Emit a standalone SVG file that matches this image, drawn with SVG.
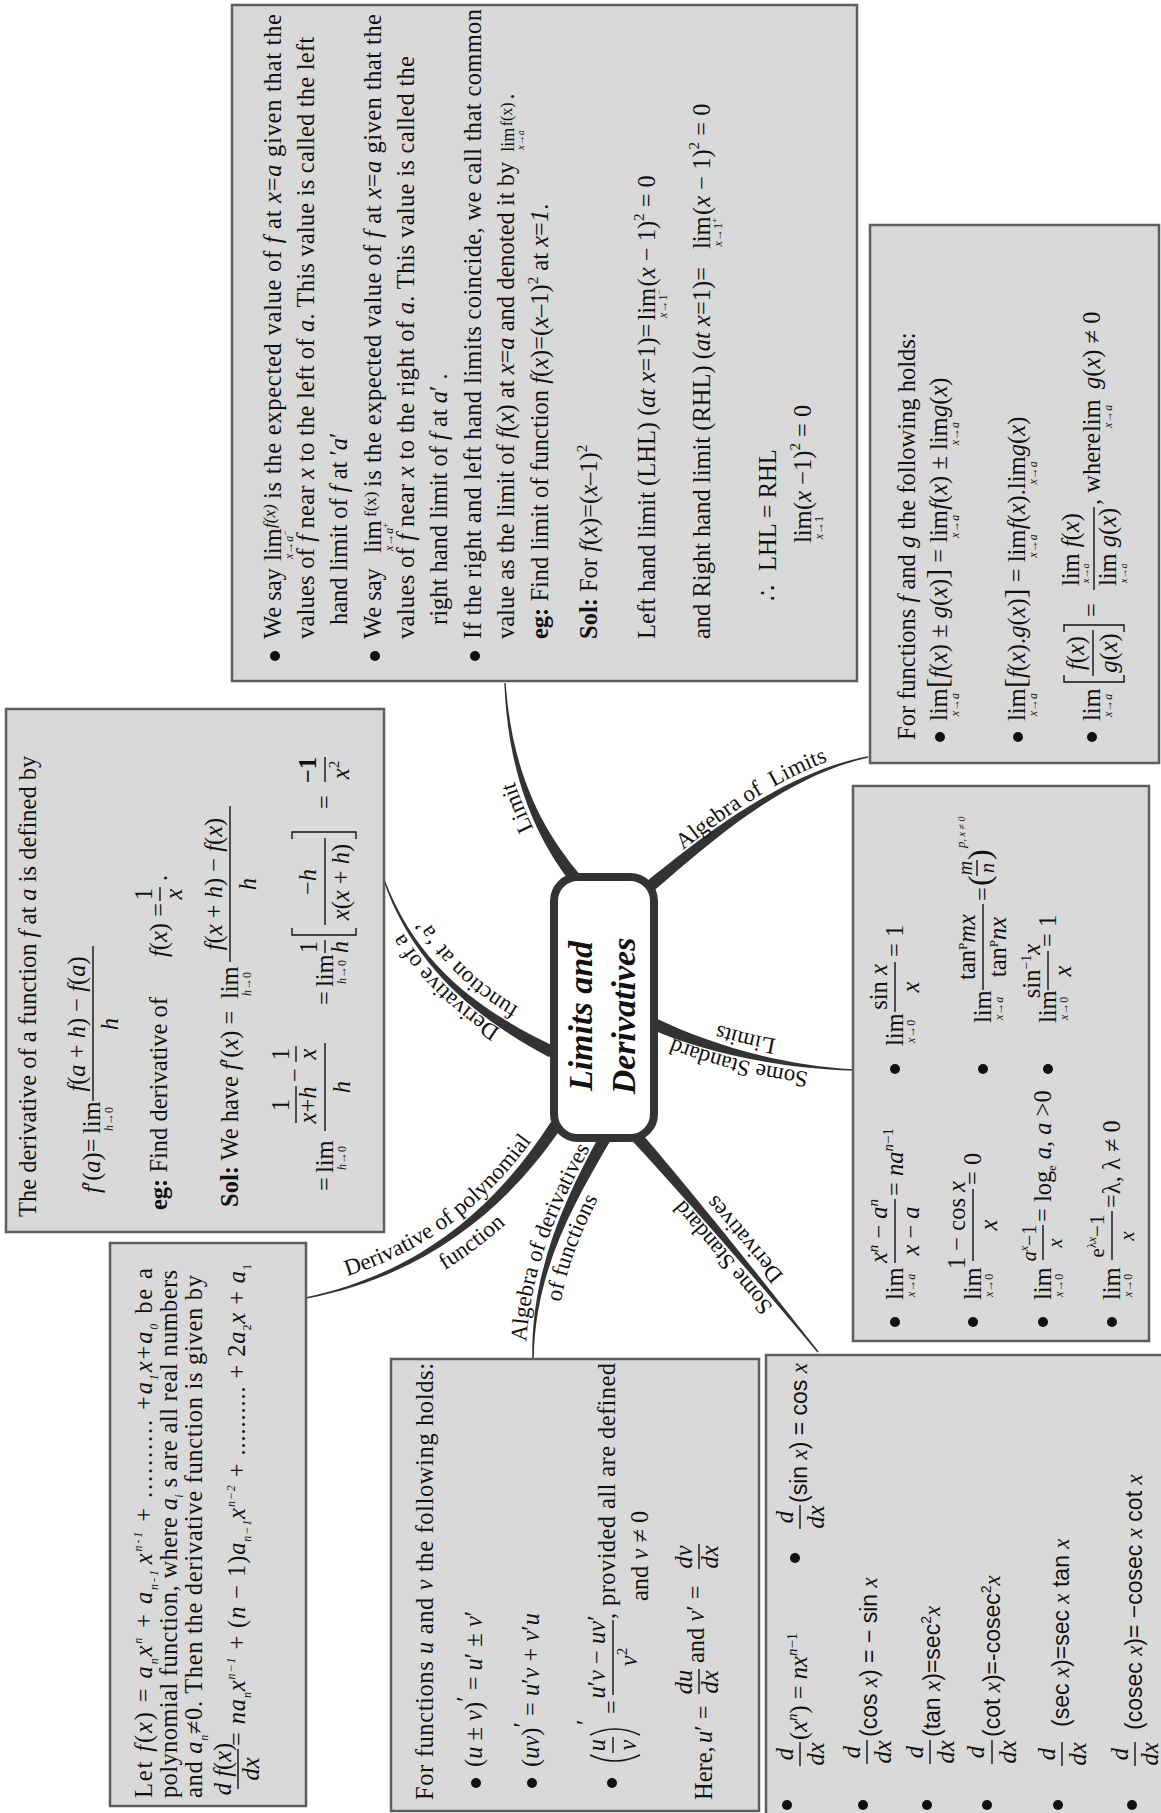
<svg xmlns="http://www.w3.org/2000/svg" width="1161" height="1813" viewBox="0 0 1161 1813">
<style>
.box{fill:#d9d9d9;stroke:#5e5e5e;stroke-width:2.5}
.t{font-family:"Liberation Serif","Times New Roman",serif;font-size:24.5px;fill:#111}
.sf{font-family:"Liberation Sans",Arial,sans-serif;font-size:23px}
.mx{font-family:"Liberation Serif","Times New Roman",serif;font-style:italic}
.i{font-style:italic}
.b{font-weight:bold}
.s{font-size:12px}
.p{font-size:15px}
.bar{stroke:#111;stroke-width:1.4}
.brk{fill:none;stroke:#111;stroke-width:1.4}
.dot{fill:#111}
.br{fill:#333}
.lbl{font-family:"Liberation Serif","Times New Roman",serif;font-size:23px;fill:#111}
.ttl{font-family:"Liberation Serif","Times New Roman",serif;font-size:34px;font-weight:bold;font-style:italic;fill:#111}
</style>
<defs>
<path id="lp-limit" d="M568.8 883.1 C533.8 840.1 502 775.4 497 683.4"/>
<path id="lp-alglim" d="M643.5 882.6 C695.5 839.6 778.6 768.1 866.6 750.1"/>
<path id="lp-ssl1" d="M852.7 1076 C769.7 1072 697.5 1050.5 651.5 1029.5"/>
<path id="lp-ssl2" d="M854 1048 C771 1044 709.1 1025 663.1 1004"/>
<path id="lp-ssd1" d="M813.3 1355.8 C755.3 1283.8 675.5 1189 630.5 1139"/>
<path id="lp-ssd2" d="M835.1 1338.2 C777.1 1266.2 696.3 1170.3 651.3 1120.3"/>
<path id="lp-adf1" d="M526 1358 C526 1270 563 1196 598 1134"/>
<path id="lp-adf2" d="M556 1358 C556 1270 590 1211.5 625 1149.5"/>
<path id="lp-dp1" d="M303.8 1287.2 C417.8 1264.2 490.8 1204 546.8 1119"/>
<path id="lp-dp2" d="M311.3 1324.5 C425.3 1301.5 522.5 1224.9 578.5 1139.9"/>
<path id="lp-daf1" d="M549.2 1057.3 C497.2 1030.3 414.4 982 378.4 882"/>
<path id="lp-daf2" d="M563 1031 C511 1004 441.6 972 405.6 872"/>
</defs>
<rect width="1161" height="1813" fill="#fff"/>

<!-- tapered branches from the central topic -->
<g id="connectors">
<path class="br" d="M579.7 874.2 C543.9 831.8 512 774.9 505.7 683 L504.3 683 C508 775.1 536.1 838.2 570.3 881.8 Z"/>
<path class="br" d="M651.8 892.6 C703.2 848.9 780.4 777 868.2 757.7 L867.9 756.3 C779.6 773 696.8 841.2 644.2 883.4 Z"/>
<path class="br" d="M651.5 1029.5 C697.9 1049.5 769.9 1068 853 1070.7 L853 1069.3 C770.1 1064 702.1 1040.5 656.5 1018.5 Z"/>
<path class="br" d="M630.5 1139 C676.3 1188.3 758.4 1281.3 817.4 1352.5 L818.6 1351.5 C761.6 1278.7 683.7 1181.7 639.5 1131 Z"/>
<path class="br" d="M599.8 1135 C565.6 1197.5 531 1270 532.3 1358 L533.8 1358 C535 1270 574.4 1202.5 610.2 1141 Z"/>
<path class="br" d="M551 1121.7 C495.8 1207.3 419.6 1273 305.9 1297.3 L306.1 1298.7 C420.4 1277 504.2 1212.8 561 1128.3 Z"/>
<path class="br" d="M554.8 1046.7 C502.3 1020.6 421.9 979.3 384.7 879.7 L383.3 880.3 C418.1 980.7 497.7 1029.4 549.2 1057.3 Z"/>
<text class="lbl"><textPath href="#lp-limit" startOffset="42%" text-anchor="middle">Limit</textPath></text>
<text class="lbl"><textPath href="#lp-alglim" startOffset="52%" text-anchor="middle">Algebra of&#160; Limits</textPath></text>
<text class="lbl"><textPath href="#lp-ssl1" startOffset="55%" text-anchor="middle">Some Standard</textPath></text>
<text class="lbl"><textPath href="#lp-ssl2" startOffset="55%" text-anchor="middle">Limits</textPath></text>
<text class="lbl"><textPath href="#lp-ssd1" startOffset="47%" text-anchor="middle">Some Standard</textPath></text>
<text class="lbl"><textPath href="#lp-ssd2" startOffset="47%" text-anchor="middle">Derivatives</textPath></text>
<text class="lbl"><textPath href="#lp-adf1" startOffset="50%" text-anchor="middle">Algebra of derivatives</textPath></text>
<text class="lbl"><textPath href="#lp-adf2" startOffset="50%" text-anchor="middle">of functions</textPath></text>
<text class="lbl"><textPath href="#lp-dp1" startOffset="53%" text-anchor="middle">Derivative of polynomial</textPath></text>
<text class="lbl"><textPath href="#lp-dp2" startOffset="55%" text-anchor="middle">function</textPath></text>
<text class="lbl"><textPath href="#lp-daf1" startOffset="50%" text-anchor="middle">Derivative of a</textPath></text>
<text class="lbl"><textPath href="#lp-daf2" startOffset="50%" text-anchor="middle">function at ‘a’</textPath></text>
</g>

<!-- central topic -->
<g id="node-center">
<rect x="554" y="877" width="100" height="261" rx="24" fill="#fff" stroke="#333" stroke-width="8"/>
<text class="ttl" transform="translate(592,1016) rotate(-90)" text-anchor="middle">Limits and</text>
<text class="ttl" transform="translate(635,1016) rotate(-90)" text-anchor="middle">Derivatives</text>
</g>

<!-- Limit -->
<g id="node-limit">
<rect class="box" x="232" y="5" width="625" height="676"/>
<g class="t" transform="matrix(0,-1,1,0,0,1813)">
<circle class="dot" cx="1157" cy="275" r="5"/>
<circle class="dot" cx="1157" cy="375" r="5"/>
<circle class="dot" cx="1157" cy="475" r="5"/>
<text x="1174" y="281">We say</text>
<text x="1252" y="281">lim</text>
<text class="s" x="1254" y="293"><tspan class="i">x</tspan>→<tspan class="i">a</tspan><tspan font-size="9" dy="-5">−</tspan></text>
<text x="1285" y="275" class="i" font-size="17">f(x)</text>
<text x="1314" y="281" textLength="485">is the expected value of <tspan class="i">f</tspan> at <tspan class="i">x</tspan>=<tspan class="i">a</tspan> given that the</text>
<text x="1174" y="314" textLength="602">values of <tspan class="i">f</tspan> near <tspan class="i">x</tspan> to the left of <tspan class="i">a</tspan>. This value is called the left</text>
<text x="1188" y="347">hand limit of <tspan class="i">f</tspan> at ′<tspan class="i">a</tspan>′</text>
<text x="1174" y="381">We say</text>
<text x="1260" y="381">lim</text>
<text class="s" x="1262" y="393"><tspan class="i">x</tspan>→<tspan class="i">a</tspan><tspan font-size="9" dy="-5">+</tspan></text>
<text x="1296" y="376" font-size="17">f(x)</text>
<text x="1326" y="381" textLength="473">is the expected value of <tspan class="i">f</tspan> at <tspan class="i">x</tspan>=<tspan class="i">a</tspan> given that the</text>
<text x="1174" y="414" textLength="583">values of <tspan class="i">f</tspan> near <tspan class="i">x</tspan> to the right of <tspan class="i">a</tspan>. This value is called the</text>
<text x="1188" y="447">right hand limit of <tspan class="i">f</tspan> at <tspan class="i">a</tspan>′ .</text>
<text x="1174" y="481" textLength="630">If the right and left hand limits coincide, we call that common</text>
<text x="1174" y="514">value as the limit of <tspan class="i">f</tspan>(<tspan class="i">x</tspan>) at <tspan class="i">x</tspan>=<tspan class="i">a</tspan> and denoted it by<tspan font-size="18" dx="10">lim</tspan><tspan font-size="10" dx="-22" dy="10"><tspan class="i">x</tspan>→<tspan class="i">a</tspan></tspan><tspan font-size="16" dx="4" dy="-12">f(x)</tspan><tspan dx="3" dy="2">.</tspan></text>
<text x="1174" y="548"><tspan class="b">eg:</tspan> Find limit of function <tspan class="i">f</tspan>(<tspan class="i">x</tspan>)=(<tspan class="i">x</tspan>–1)<tspan class="p" dy="-10">2</tspan><tspan dy="10"> at </tspan><tspan class="i">x</tspan>=<tspan class="i">1</tspan>.</text>
<text x="1174" y="597"><tspan class="b">Sol:</tspan> For <tspan class="i">f</tspan>(<tspan class="i">x</tspan>)=(<tspan class="i">x</tspan>–1)<tspan class="p" dy="-10">2</tspan></text>
<text x="1174" y="655">Left hand limit (LHL) (<tspan class="i">at x</tspan>=1)=<tspan dx="3">lim</tspan><tspan class="s" dx="-30" dy="12"><tspan class="i">x</tspan>→1<tspan font-size="9" dy="-5">−</tspan></tspan><tspan dx="3" dy="-7">(<tspan class="i">x</tspan> − 1)</tspan><tspan class="p" dy="-11">2</tspan><tspan dy="11"> = 0</tspan></text>
<text x="1174" y="710">and Right hand limit (RHL) (<tspan class="i">at x</tspan>=1)=<tspan dx="18">lim</tspan><tspan class="s" dx="-30" dy="12"><tspan class="i">x</tspan>→1<tspan font-size="9" dy="-5">+</tspan></tspan><tspan dx="3" dy="-7">(<tspan class="i">x</tspan> − 1)</tspan><tspan class="p" dy="-11">2</tspan><tspan dy="11"> = 0</tspan></text>
<text x="1212" y="776">∴<tspan dx="14">LHL = RHL</tspan></text>
<text x="1270" y="811">lim<tspan class="s" dx="-29" dy="12"><tspan class="i">x</tspan>→1</tspan><tspan dx="6" dy="-12">(<tspan class="i">x</tspan> −1)</tspan><tspan class="p" dy="-11">2</tspan><tspan dy="11"> = 0</tspan></text>
</g>
</g>

<!-- Algebra of limits -->
<g id="node-algebra-limits">
<rect class="box" x="870" y="225" width="289" height="538"/>
<g class="t" transform="matrix(0,-1,1,0,0,1813)">
<text x="1073" y="915">For functions <tspan class="i">f</tspan> and <tspan class="i">g</tspan> the following holds:</text>
<circle class="dot" cx="1076" cy="940" r="5"/>
<circle class="dot" cx="1076" cy="1018" r="5"/>
<circle class="dot" cx="1076" cy="1092" r="5"/>
<text x="1092" y="947">lim<tspan class="s" dx="-28" dy="12"><tspan class="i">x</tspan>→<tspan class="i">a</tspan></tspan><tspan font-size="30" dx="5" dy="-12">[</tspan><tspan class="i">f</tspan>(<tspan class="i">x</tspan>) ± <tspan class="i">g</tspan>(<tspan class="i">x</tspan>)<tspan font-size="30">]</tspan> = lim<tspan class="s" dx="-28" dy="12"><tspan class="i">x</tspan>→<tspan class="i">a</tspan></tspan><tspan dx="5" dy="-12"><tspan class="i">f</tspan>(<tspan class="i">x</tspan>) ± lim</tspan><tspan class="s" dx="-28" dy="12"><tspan class="i">x</tspan>→<tspan class="i">a</tspan></tspan><tspan dx="5" dy="-12"><tspan class="i">g</tspan>(<tspan class="i">x</tspan>)</tspan></text>
<text x="1092" y="1025">lim<tspan class="s" dx="-28" dy="12"><tspan class="i">x</tspan>→<tspan class="i">a</tspan></tspan><tspan font-size="30" dx="5" dy="-12">[</tspan><tspan class="i">f</tspan>(<tspan class="i">x</tspan>).<tspan class="i">g</tspan>(<tspan class="i">x</tspan>)<tspan font-size="30">]</tspan> = lim<tspan class="s" dx="-28" dy="12"><tspan class="i">x</tspan>→<tspan class="i">a</tspan></tspan><tspan dx="5" dy="-12"><tspan class="i">f</tspan>(<tspan class="i">x</tspan>).lim</tspan><tspan class="s" dx="-28" dy="12"><tspan class="i">x</tspan>→<tspan class="i">a</tspan></tspan><tspan dx="5" dy="-12"><tspan class="i">g</tspan>(<tspan class="i">x</tspan>)</tspan></text>
<text x="1092" y="1100">lim</text>
<text class="s" x="1096" y="1112"><tspan class="i">x</tspan>→<tspan class="i">a</tspan></text>
<path class="brk" d="M1138 1064 H1131 V1124 H1138"/>
<text x="1160" y="1084" text-anchor="middle"><tspan class="i">f</tspan>(<tspan class="i">x</tspan>)</text>
<line class="bar" x1="1137" y1="1093" x2="1183" y2="1093"/>
<text x="1160" y="1117" text-anchor="middle"><tspan class="i">g</tspan>(<tspan class="i">x</tspan>)</text>
<path class="brk" d="M1181 1064 H1188 V1124 H1181"/>
<text x="1196" y="1100">=</text>
<text x="1227" y="1079">lim <tspan class="i">f</tspan>(<tspan class="i">x</tspan>)</text>
<text x="1230" y="1089" font-size="10"><tspan class="i">x</tspan>→<tspan class="i">a</tspan></text>
<line class="bar" x1="1223" y1="1094" x2="1306" y2="1094"/>
<text x="1227" y="1116">lim <tspan class="i">g</tspan>(<tspan class="i">x</tspan>)</text>
<text x="1230" y="1127" font-size="10"><tspan class="i">x</tspan>→<tspan class="i">a</tspan></text>
<text x="1308" y="1100">, where</text>
<text x="1381" y="1100">lim</text>
<text class="s" x="1385" y="1112"><tspan class="i">x</tspan>→<tspan class="i">a</tspan></text>
<text x="1424" y="1100"><tspan class="i">g</tspan>(<tspan class="i">x</tspan>) ≠ 0</text>
</g>
</g>

<!-- Derivative of a function at a -->
<g id="node-derivative-at-a">
<rect class="box" x="6" y="709" width="378" height="523"/>
<g class="t" transform="matrix(0,-1,1,0,0,1813)">
<text x="596" y="36">The derivative of a function <tspan class="i">f</tspan> at <tspan class="i">a</tspan> is defined by</text>
<text x="620" y="100"><tspan class="i">f</tspan>′(<tspan class="i">a</tspan>)=</text>
<text x="679" y="100">lim</text>
<text class="s" x="682" y="113"><tspan class="i">h</tspan>→0</text>
<text x="789" y="85" text-anchor="middle"><tspan class="i">f</tspan>(<tspan class="i">a</tspan> + <tspan class="i">h</tspan>) − <tspan class="i">f</tspan>(<tspan class="i">a</tspan>)</text>
<line class="bar" x1="712" y1="93" x2="867" y2="93"/>
<text x="789" y="118" text-anchor="middle" class="i">h</text>
<text x="603" y="167"><tspan class="b">eg:</tspan> Find derivative of</text>
<text x="856" y="167"><tspan class="i">f</tspan>(<tspan class="i">x</tspan>) =</text>
<text x="919" y="152" text-anchor="middle">1</text>
<line class="bar" x1="912" y1="160" x2="926" y2="160"/>
<text x="919" y="182" text-anchor="middle" class="i">x</text>
<text x="932" y="167">.</text>
<text x="606" y="238"><tspan class="b">Sol:</tspan> We have <tspan class="i">f</tspan>′(<tspan class="i">x</tspan>) =</text>
<text x="814" y="238">lim</text>
<text class="s" x="817" y="251"><tspan class="i">h</tspan>→0</text>
<text x="929" y="222" text-anchor="middle"><tspan class="i">f</tspan>(<tspan class="i">x</tspan> + <tspan class="i">h</tspan>) − <tspan class="i">f</tspan>(<tspan class="i">x</tspan>)</text>
<line class="bar" x1="851" y1="230" x2="1007" y2="230"/>
<text x="929" y="256" text-anchor="middle" class="i">h</text>
<text x="622" y="333">=</text>
<text x="640" y="333">lim</text>
<text class="s" x="643" y="346"><tspan class="i">h</tspan>→0</text>
<text x="708" y="289" text-anchor="middle">1</text>
<line class="bar" x1="690" y1="296" x2="727" y2="296"/>
<text x="708" y="316" text-anchor="middle"><tspan class="i">x</tspan>+<tspan class="i">h</tspan></text>
<text x="738" y="303" text-anchor="middle">−</text>
<text x="759" y="289" text-anchor="middle">1</text>
<line class="bar" x1="751" y1="296" x2="767" y2="296"/>
<text x="759" y="316" text-anchor="middle" class="i">x</text>
<line class="bar" x1="682" y1="325" x2="770" y2="325"/>
<text x="726" y="350" text-anchor="middle" class="i">h</text>
<text x="808" y="333">=</text>
<text x="826" y="333">lim</text>
<text class="s" x="829" y="346"><tspan class="i">h</tspan>→0</text>
<text x="866" y="317" text-anchor="middle">1</text>
<line class="bar" x1="860" y1="325" x2="873" y2="325"/>
<text x="866" y="348" text-anchor="middle" class="i">h</text>
<path class="brk" d="M885 292 H878 V356 H885"/>
<text x="931" y="316" text-anchor="middle">−<tspan class="i">h</tspan></text>
<line class="bar" x1="888" y1="325" x2="975" y2="325"/>
<text x="931" y="349" text-anchor="middle"><tspan class="i">x</tspan>(<tspan class="i">x</tspan> + <tspan class="i">h</tspan>)</text>
<path class="brk" d="M974 292 H981 V356 H974"/>
<text x="1004" y="333">=</text>
<text x="1043" y="316" text-anchor="middle" class="b">−1</text>
<line class="bar" x1="1031" y1="325" x2="1056" y2="325"/>
<text x="1043" y="349" text-anchor="middle"><tspan class="i">x</tspan><tspan class="p" dy="-10">2</tspan></text>
</g>
</g>

<!-- Some standard limits -->
<g id="node-standard-limits">
<rect class="box" x="853" y="786" width="296" height="555"/>
<g class="t" transform="matrix(0,-1,1,0,0,1813)">
<circle class="dot" cx="491" cy="895" r="5"/>
<circle class="dot" cx="491" cy="973" r="5"/>
<circle class="dot" cx="491" cy="1043" r="5"/>
<circle class="dot" cx="491" cy="1112" r="5"/>
<circle class="dot" cx="744" cy="895" r="5"/>
<circle class="dot" cx="744" cy="983" r="5"/>
<circle class="dot" cx="744" cy="1048" r="5"/>
<text x="513" y="903">lim</text>
<text class="s" x="516" y="915"><tspan class="i">x</tspan>→<tspan class="i">a</tspan></text>
<text x="582" y="887" text-anchor="middle"><tspan class="i">x</tspan><tspan class="p i" dy="-9">n</tspan><tspan dy="9"> − </tspan><tspan class="i">a</tspan><tspan class="p i" dy="-9">n</tspan></text>
<line class="bar" x1="550" y1="895" x2="614" y2="895"/>
<text x="582" y="919" text-anchor="middle"><tspan class="i">x</tspan> − <tspan class="i">a</tspan></text>
<text x="617" y="903">= <tspan class="i">na</tspan><tspan class="p i" dy="-10">n</tspan><tspan class="p">−1</tspan></text>
<text x="513" y="981">lim</text>
<text class="s" x="516" y="993"><tspan class="i">x</tspan>→0</text>
<text x="588" y="965" text-anchor="middle">1 − cos <tspan class="i">x</tspan></text>
<line class="bar" x1="552" y1="973" x2="624" y2="973"/>
<text x="588" y="997" text-anchor="middle" class="i">x</text>
<text x="628" y="981">= 0</text>
<text x="513" y="1051">lim</text>
<text class="s" x="516" y="1063"><tspan class="i">x</tspan>→0</text>
<text x="570" y="1036" text-anchor="middle" font-size="20"><tspan class="i">a</tspan><tspan class="i" font-size="12" dy="-8">x</tspan><tspan dy="8">−1</tspan></text>
<line class="bar" x1="553" y1="1043" x2="588" y2="1043"/>
<text x="570" y="1062" text-anchor="middle" class="i" font-size="20">x</text>
<text x="591" y="1051">= log<tspan font-size="12" dy="5">e</tspan><tspan dy="-5"> <tspan class="i">a</tspan>, <tspan class="i">a</tspan> &gt;0</tspan></text>
<text x="513" y="1120">lim</text>
<text class="s" x="516" y="1132"><tspan class="i">x</tspan>→0</text>
<text x="577" y="1104" text-anchor="middle" font-size="21">e<tspan font-size="12" dy="-8">λ<tspan class="i">x</tspan></tspan><tspan dy="8">−1</tspan></text>
<line class="bar" x1="553" y1="1112" x2="602" y2="1112"/>
<text x="577" y="1134" text-anchor="middle" class="i" font-size="21">x</text>
<text x="605" y="1120">=λ, λ ≠ 0</text>
<text x="767" y="903">lim</text>
<text class="s" x="770" y="915"><tspan class="i">x</tspan>→0</text>
<text x="826" y="887" text-anchor="middle">sin <tspan class="i">x</tspan></text>
<line class="bar" x1="801" y1="895" x2="851" y2="895"/>
<text x="826" y="919" text-anchor="middle" class="i">x</text>
<text x="856" y="903">= 1</text>
<text x="790" y="991">lim</text>
<text class="s" x="793" y="1003"><tspan class="i">x</tspan>→<tspan class="i">a</tspan></text>
<text x="866" y="975" text-anchor="middle">tan<tspan font-size="13" dy="-8">P</tspan><tspan class="i" dy="8">mx</tspan></text>
<line class="bar" x1="823" y1="983" x2="909" y2="983"/>
<text x="866" y="1006" text-anchor="middle">tan<tspan font-size="13" dy="-8">P</tspan><tspan class="i" dy="8">nx</tspan></text>
<text x="912" y="991">=</text>
<text x="927" y="990" font-size="32">(</text>
<text x="945" y="972" text-anchor="middle" class="i" font-size="20">m</text>
<line class="bar" x1="937" y1="977" x2="953" y2="977"/>
<text x="945" y="994" text-anchor="middle" class="i" font-size="20">n</text>
<text x="953" y="990" font-size="32">)</text>
<text x="965" y="965" class="i" font-size="13">p<tspan font-size="10">, x ≠ 0</tspan></text>
<text x="790" y="1056">lim</text>
<text class="s" x="793" y="1068"><tspan class="i">x</tspan>→0</text>
<text x="842" y="1040" text-anchor="middle">sin<tspan font-size="14" dy="-9">−1</tspan><tspan class="i" dy="9">x</tspan></text>
<line class="bar" x1="823" y1="1048" x2="862" y2="1048"/>
<text x="842" y="1071" text-anchor="middle" class="i">x</text>
<text x="866" y="1056">= 1</text>
</g>
</g>

<!-- Derivative of polynomial function -->
<g id="node-polynomial">
<rect class="box" x="110" y="1243" width="196" height="563"/>
<g class="t" transform="matrix(0,-1,1,0,0,1813)">
<text x="15" y="152" textLength="530">Let <tspan class="i">f</tspan>(<tspan class="i">x</tspan>) = <tspan class="i">a</tspan><tspan class="s i" dy="6">n</tspan><tspan class="i" dy="-6">x</tspan><tspan class="s i" dy="-10">n</tspan><tspan dy="10"> + </tspan><tspan class="i">a</tspan><tspan class="s i" dy="6">n-1</tspan><tspan class="i" dx="4" dy="-6">x</tspan><tspan class="s i" dy="-10">n-1</tspan><tspan dy="10"> + .......... +</tspan><tspan class="i">a</tspan><tspan class="s i" dy="6">1</tspan><tspan class="i" dy="-6">x</tspan>+<tspan class="i">a</tspan><tspan class="s i" dy="6">0</tspan><tspan dy="-6"> be a</tspan></text>
<text x="15" y="177" textLength="528">polynomial function, where <tspan class="i">a</tspan><tspan class="s i" dy="6">i</tspan><tspan dy="-6"> s are all real numbers</tspan></text>
<text x="15" y="202" textLength="523">and <tspan class="i">a</tspan><tspan class="s i" dy="6">n</tspan><tspan dy="-6">≠0. Then the derivative function is given by</tspan></text>
<text x="44" y="231" text-anchor="middle"><tspan class="i">d f</tspan>(<tspan class="i">x</tspan>)</text>
<line class="bar" x1="24" y1="238" x2="64" y2="238"/>
<text x="44" y="259" text-anchor="middle" class="i">dx</text>
<text x="67" y="245" textLength="482">= <tspan class="i">na</tspan><tspan class="s i" dy="6">n</tspan><tspan class="i" dy="-6">x</tspan><tspan class="s i" dy="-10">n−1</tspan><tspan dy="10"> + (</tspan><tspan class="i">n</tspan> − 1)<tspan class="i">a</tspan><tspan class="s i" dy="6">n−1</tspan><tspan class="i" dy="-6">x</tspan><tspan class="s i" dy="-10">n−2</tspan><tspan dy="10"> + .......... + 2</tspan><tspan class="i">a</tspan><tspan class="s" dy="6">2</tspan><tspan class="i" dy="-6">x</tspan> + <tspan class="i">a</tspan><tspan class="s" dy="6">1</tspan></text>
</g>
</g>

<!-- Algebra of derivatives of functions -->
<g id="node-algebra-derivatives">
<rect class="box" x="391" y="1359" width="368" height="452"/>
<g class="t" transform="matrix(0,-1,1,0,0,1813)">
<text x="13" y="433" textLength="437">For functions <tspan class="i">u</tspan> and <tspan class="i">v</tspan> the following holds:</text>
<circle class="dot" cx="30" cy="476" r="5"/>
<circle class="dot" cx="30" cy="532" r="5"/>
<circle class="dot" cx="30" cy="612" r="5"/>
<text x="46" y="482">(<tspan class="i">u</tspan> ± <tspan class="i">v</tspan>)<tspan dy="-8">′</tspan><tspan dy="8"> = </tspan><tspan class="i">u</tspan>′ ± <tspan class="i">v</tspan>′</text>
<text x="46" y="539">(<tspan class="i">uv</tspan>)<tspan dy="-8">′</tspan><tspan dy="8"> = </tspan><tspan class="i">u</tspan>′<tspan class="i">v</tspan> + <tspan class="i">v</tspan>′<tspan class="i">u</tspan></text>
<path class="brk" d="M58 590 Q46 615 58 640"/>
<text x="68" y="605" text-anchor="middle" class="i">u</text>
<line class="bar" x1="60" y1="613" x2="76" y2="613"/>
<text x="68" y="636" text-anchor="middle" class="i">v</text>
<path class="brk" d="M78 590 Q90 615 78 640"/>
<text x="88" y="594">′</text>
<text x="99" y="620">=</text>
<text x="156" y="605" text-anchor="middle"><tspan class="i">u</tspan>′<tspan class="i">v</tspan> − <tspan class="i">uv</tspan>′</text>
<line class="bar" x1="118" y1="613" x2="193" y2="613"/>
<text x="156" y="637" text-anchor="middle"><tspan class="i">v</tspan><tspan class="p" dy="-10">2</tspan></text>
<text x="194" y="615" textLength="256">, provided all are defined</text>
<text x="212" y="648">and <tspan class="i">v</tspan> ≠ 0</text>
<text x="13" y="712">Here,</text>
<text x="70" y="712"><tspan class="i">u</tspan>′ =</text>
<text x="131" y="692" text-anchor="middle" class="i">du</text>
<line class="bar" x1="119" y1="699" x2="144" y2="699"/>
<text x="131" y="718" text-anchor="middle" class="i">dx</text>
<text x="150" y="704">and <tspan class="i">v</tspan>′ =</text>
<text x="256" y="692" text-anchor="middle" class="i">dv</text>
<line class="bar" x1="244" y1="699" x2="269" y2="699"/>
<text x="256" y="718" text-anchor="middle" class="i">dx</text>
</g>
</g>

<!-- Some standard derivatives -->
<g id="node-standard-derivatives">
<rect class="box" x="766" y="1355" width="400" height="462"/>
<g class="t" transform="matrix(0,-1,1,0,0,1813)">
<circle class="dot" cx="8" cy="787" r="5"/>
<circle class="dot" cx="8" cy="863" r="5"/>
<circle class="dot" cx="8" cy="927" r="5"/>
<circle class="dot" cx="8" cy="987" r="5"/>
<circle class="dot" cx="8" cy="1058" r="5"/>
<circle class="dot" cx="8" cy="1132" r="5"/>
<circle class="dot" cx="255" cy="795" r="5"/>
<text x="59" y="793" text-anchor="middle" class="i">d</text>
<line class="bar" x1="47" y1="800" x2="71" y2="800"/>
<text x="59" y="824" text-anchor="middle" class="i">dx</text>
<text x="73" y="807">(<tspan class="i">x</tspan><tspan class="p i" dy="-10">n</tspan><tspan dy="10">) = </tspan><tspan class="i">nx</tspan><tspan class="p i" dy="-10">n</tspan><tspan class="p">−1</tspan></text>
<text x="61" y="860" text-anchor="middle" class="i">d</text>
<line class="bar" x1="49" y1="867" x2="73" y2="867"/>
<text x="61" y="891" text-anchor="middle" class="i">dx</text>
<text class="sf" x="76" y="877">(cos <tspan class="mx">x</tspan>) = − sin <tspan class="mx">x</tspan></text>
<text x="61" y="923" text-anchor="middle" class="i">d</text>
<line class="bar" x1="49" y1="930" x2="73" y2="930"/>
<text x="61" y="954" text-anchor="middle" class="i">dx</text>
<text class="sf" x="76" y="940">(tan <tspan class="mx">x</tspan>)=sec<tspan font-size="14" dy="-9">2</tspan><tspan class="mx" dy="9">x</tspan></text>
<text x="61" y="984" text-anchor="middle" class="i">d</text>
<line class="bar" x1="49" y1="992" x2="73" y2="992"/>
<text x="61" y="1016" text-anchor="middle" class="i">dx</text>
<text class="sf" x="76" y="1000">(cot <tspan class="mx">x</tspan>)=-cosec<tspan font-size="14" dy="-9">2</tspan><tspan class="mx" dy="9">x</tspan></text>
<text x="59" y="1055" text-anchor="middle" class="i">d</text>
<line class="bar" x1="47" y1="1062" x2="71" y2="1062"/>
<text x="59" y="1086" text-anchor="middle" class="i">dx</text>
<text class="sf" x="86" y="1069">(sec <tspan class="mx">x</tspan>)=sec <tspan class="mx">x</tspan> tan <tspan class="mx">x</tspan></text>
<text x="59" y="1128" text-anchor="middle" class="i">d</text>
<line class="bar" x1="47" y1="1135" x2="71" y2="1135"/>
<text x="59" y="1158" text-anchor="middle" class="i">dx</text>
<text class="sf" x="83" y="1142">(cosec <tspan class="mx">x</tspan>)= −cosec <tspan class="mx">x</tspan> cot <tspan class="mx">x</tspan></text>
<text x="296" y="793" text-anchor="middle" class="i">d</text>
<line class="bar" x1="284" y1="800" x2="308" y2="800"/>
<text x="296" y="824" text-anchor="middle" class="i">dx</text>
<text class="sf" x="310" y="807">(sin <tspan class="mx">x</tspan>) = cos <tspan class="mx">x</tspan></text>
</g>
</g>
</svg>
